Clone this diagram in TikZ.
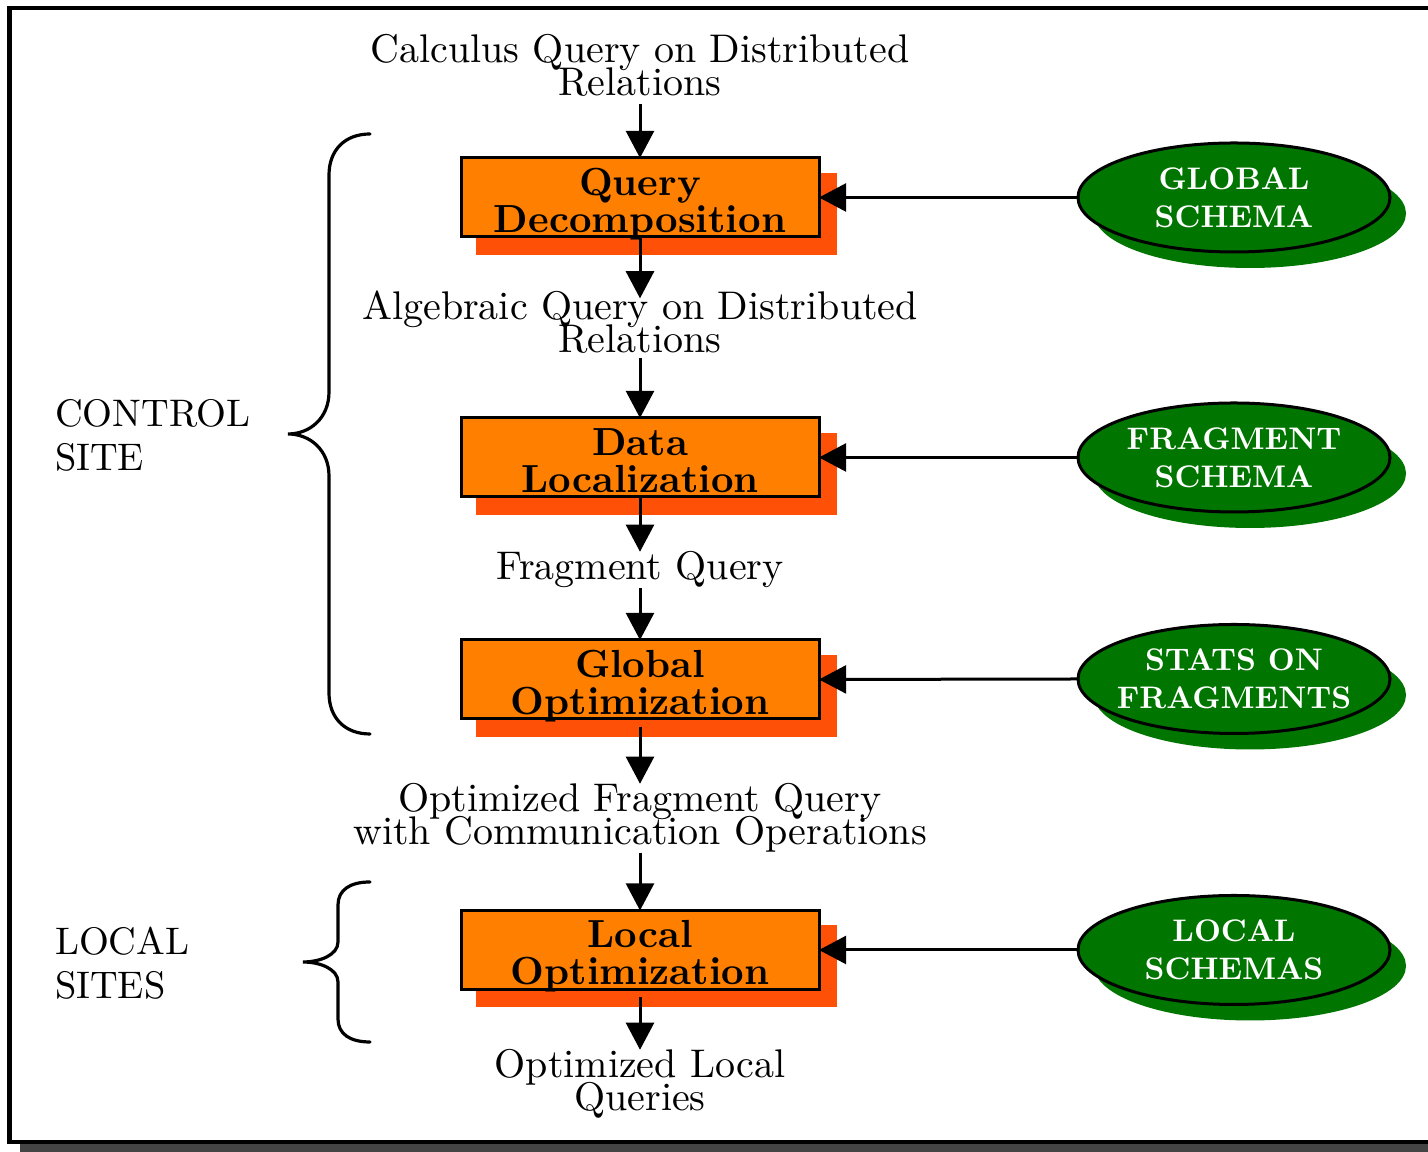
\documentclass[tikz,border=0pt]{standalone}
\usetikzlibrary{arrows.meta,calc,shapes.geometric}
\definecolor{boxorange}{RGB}{255,128,0}
\definecolor{boxshade}{RGB}{255,80,8}
\definecolor{schemagreen}{RGB}{0,117,0}
\definecolor{frameshade}{RGB}{68,68,68}

\begin{document}
\begin{tikzpicture}[x=0.25pt,y=-0.25pt,
  every node/.style={inner sep=0pt, outer sep=0pt},
  procbox/.style={draw=black, line width=0.75pt, fill=boxorange,
    minimum width=89.5pt, minimum height=19.75pt},
  proctext/.style={font=\fontsize{9.8}{9.25}\selectfont\bfseries,
    align=center, anchor=base},
  schemaell/.style={ellipse, draw=black, line width=0.75pt, fill=schemagreen,
    minimum width=78pt, minimum height=27.25pt},
  schematext/.style={font=\fontsize{10}{12.2}\selectfont\bfseries,
    align=center, text=white, scale=0.78, transform shape},
  plain/.style={font=\fontsize{10}{8.25}\selectfont,
    align=center, anchor=base},
  sidelabel/.style={font=\fontsize{9.6}{11}\selectfont,
    align=left, anchor=base west},
  flow/.style={line width=0.75pt, -{Triangle[length=6.8pt,width=7pt]}},
  brace/.style={line width=0.8pt, line cap=round},
]
% let tightly set lines overlap instead of being pushed apart
\lineskiplimit=-20pt
\useasboundingbox (0,0) rectangle (1428,1152);
\clip (0,0) rectangle (1428,1152);

% page frame with its drop shadow
\fill[frameshade] (20,1144) rectangle (1440,1160);
\draw[line width=1pt] (1440,8) -- (9.5,8) -- (9.5,1142) -- (1440,1142);

% processing steps
\foreach \nm/\yy in {qd/197.5, dl/457.5, go/679.5, lo/950}{
  \fill[boxshade] (476,\yy-24.5) rectangle (837,\yy+57.5);
  \node[procbox] (\nm) at (640,\yy) {};
}
\node[proctext] (qdt) at (640,232.5) {Query\\Decomposition};
\node[proctext] (dlt) at (640,492.5) {Data\\Localization};
\node[proctext] (got) at (640,714.5) {Global\\Optimization};
\node[proctext] (lot) at (640,985) {Local\\Optimization};

% schema sources
\foreach \nm/\yy in {gs/197.5, fs/457.5, ss/679, ls/950}{
  \fill[schemagreen] (1250,\yy+16) ellipse [x radius=156, y radius=54.5];
  \node[schemaell] (\nm) at (1234,\yy) {};
}
\node[schematext] (gst) at (gs) {GLOBAL\\SCHEMA};
\node[schematext] (fst) at (fs) {FRAGMENT\\SCHEMA};
\node[schematext] (sst) at (ss) {STATS ON\\FRAGMENTS};
\node[schematext] (lst) at (ls) {LOCAL\\SCHEMAS};

% intermediate query forms
\node[plain] (t1) at (640,96) {Calculus Query on Distributed\\Relations};
\node[plain] (t2) at (640,353) {Algebraic Query on Distributed\\Relations};
\node[plain] (t3) at (640,580) {Fragment Query};
\node[plain] (t4) at (640,845) {Optimized Fragment Query\\with Communication Operations};
\node[plain] (t5) at (640,1111) {Optimized Local\\Queries};

% main flow
\draw[flow, shorten <=1.75pt] (t1.south) -- (qd.north);
\draw[flow, shorten >=-1.75pt] (qd.south) -- (t2.north);
\draw[flow, shorten <=1pt] (t2.south) -- (dl.north);
\draw[flow] (dl.south) -- (t3.north);
\draw[flow] (t3.south) -- (go.north);
\draw[flow, shorten <=2pt] (go.south) -- (t4.north);
\draw[flow] (t4.south) -- (lo.north);
\draw[flow, shorten <=2pt] (lo.south) -- (t5.north);

% schema inputs
\draw[flow] (gs.west) -- (qd.east);
\draw[flow] (fs.west) -- (dl.east);
\draw[flow] (ss.west) -- (go.east);
\draw[flow] (ls.west) -- (lo.east);

% site groupings
\draw[brace] (370,134) .. controls (345,134) and (329,150) .. (329,175)
  -- (329,392) .. controls (329,418) and (310,434) .. (288,434)
  .. controls (310,434) and (329,450) .. (329,476)
  -- (329,693) .. controls (329,718) and (345,734) .. (370,734);
\draw[brace] (370,882) .. controls (350,882) and (338,890) .. (338,905)
  -- (338,942) .. controls (338,955) and (320,962) .. (303,962)
  .. controls (320,962) and (338,969) .. (338,982)
  -- (338,1019) .. controls (338,1034) and (350,1042) .. (370,1042);

\node[sidelabel] (cs) at (55,471) {CONTROL\\SITE};
\node[sidelabel] (lsite) at (55,999) {LOCAL\\SITES};
\end{tikzpicture}
\end{document}
